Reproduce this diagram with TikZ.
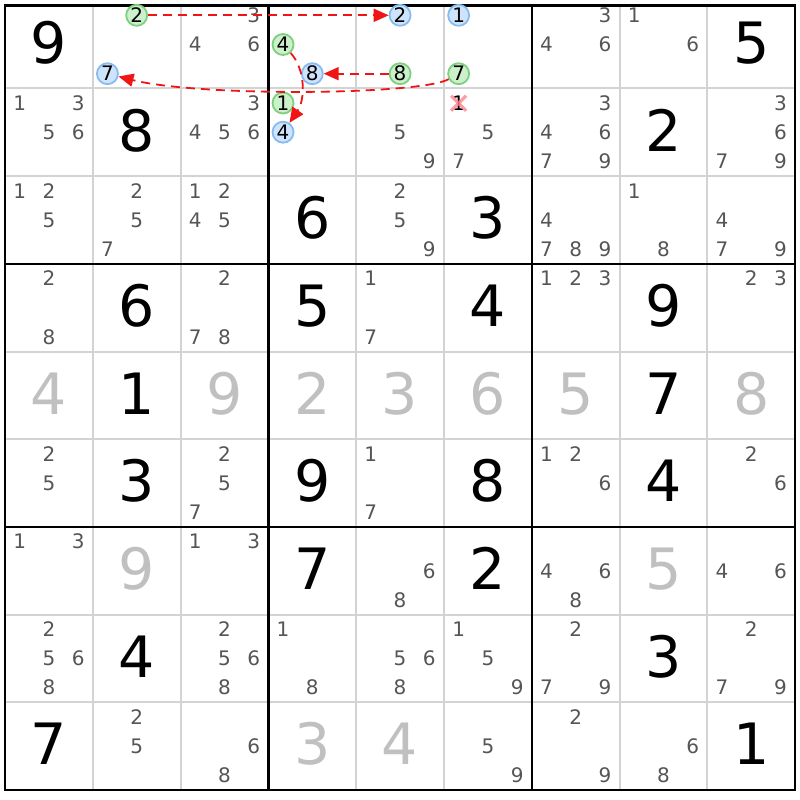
\documentclass[tikz,border=0pt]{standalone}
\usepackage{fontspec}
\setmainfont{DejaVu Sans}
\usetikzlibrary{arrows.meta}
\definecolor{candgray}{RGB}{85,85,85}
\definecolor{solvedgray}{RGB}{192,192,192}
\definecolor{gridgray}{RGB}{211,211,211}
\definecolor{ringfillg}{RGB}{204,240,204}
\definecolor{ringlineg}{RGB}{125,208,125}
\definecolor{ringfillb}{RGB}{206,228,252}
\definecolor{ringlineb}{RGB}{135,188,240}
\definecolor{linkred}{RGB}{240,20,20}
\definecolor{crosspink}{RGB}{255,130,140}

\begin{document}
\begin{tikzpicture}[x=1pt,y=-1pt,
    big/.style={inner sep=0pt,font=\fontsize{57}{57}\selectfont,text height=41.5pt,text depth=0pt},
    cand/.style={inner sep=0pt,text=candgray,font=\fontsize{20}{20}\selectfont,text height=14.6pt,text depth=0pt},
    ring/.style={cand,text=black,circle,line width=1.8pt,minimum size=21pt},
    link/.style={linkred,line width=1.8pt,dash pattern=on 9pt off 6pt,-{Triangle[length=15pt,width=13pt]}}]
  \useasboundingbox (0,0) rectangle (800,800);
  % grid
  \foreach \k in {1,2,4,5,7,8} {
    \draw[gridgray,line width=2pt] (5+87.8*\k,5.5) -- (5+87.8*\k,790);
    \draw[gridgray,line width=2pt] (5,0.7+87.7*\k) -- (795,0.7+87.7*\k);
  }
  \foreach \k in {3,6} {
    \draw[line width=2.5pt] (5+87.8*\k,5.5) -- (5+87.8*\k,790);
    \draw[line width=2.5pt] (5,0.7+87.7*\k) -- (795,0.7+87.7*\k);
  }
  \draw[line width=2.8pt] (5,5.5) rectangle (795,790);
  % givens and solved cells
  \foreach \r/\c/\d/\t in {1/1/9/black,1/9/5/black,2/2/8/black,2/8/2/black,3/4/6/black,3/6/3/black,
      4/2/6/black,4/4/5/black,4/6/4/black,4/8/9/black,5/2/1/black,5/8/7/black,
      6/2/3/black,6/4/9/black,6/6/8/black,6/8/4/black,7/4/7/black,7/6/2/black,
      8/2/4/black,8/8/3/black,9/1/7/black,9/9/1/black,
      5/1/4/solvedgray,5/3/9/solvedgray,5/4/2/solvedgray,5/5/3/solvedgray,5/6/6/solvedgray,
      5/7/5/solvedgray,5/9/8/solvedgray,7/2/9/solvedgray,7/8/5/solvedgray,9/4/3/solvedgray,9/5/4/solvedgray} {
    \node[big,text=\t] (g\r\c) at (5+87.8*\c-43.9,0.7+87.7*\r-45.85) {\d};
  }
  % pencil marks
  \foreach \r/\c/\ds in {1/3/{3,4,6},1/7/{3,4,6},1/8/{1,6},
      2/1/{1,3,5,6},2/3/{3,4,5,6},2/5/{5,9},2/6/{5,7},2/7/{3,4,6,7,9},2/9/{3,6,7,9},
      3/1/{1,2,5},3/2/{2,5,7},3/3/{1,2,4,5},3/5/{2,5,9},3/7/{4,7,8,9},3/8/{1,8},3/9/{4,7,9},
      4/1/{2,8},4/3/{2,7,8},4/5/{1,7},4/7/{1,2,3},4/9/{2,3},
      6/1/{2,5},6/3/{2,5,7},6/5/{1,7},6/7/{1,2,6},6/9/{2,6},
      7/1/{1,3},7/3/{1,3},7/5/{6,8},7/7/{4,6,8},7/9/{4,6},
      8/1/{2,5,6,8},8/3/{2,5,6,8},8/4/{1,8},8/5/{5,6,8},8/6/{1,5,9},8/7/{2,7,9},8/9/{2,7,9},
      9/2/{2,5},9/3/{6,8},9/6/{5,9},9/7/{2,9},9/8/{6,8}} {
    \foreach \d in \ds {
      \pgfmathsetmacro\px{5+87.8*(\c-1)+14.63*(2*mod(\d-1,3)+1)}
      \pgfmathsetmacro\py{0.7+87.7*(\r-1)+14.6*(2*floor((\d-1)/3)+1)}
      \node[cand] (c\r\c\d) at (\px,\py) {\d};
    }
  }
  % chain candidates
  \foreach \r/\c/\d/\k in {1/2/2/g,1/2/7/b,1/4/4/g,1/4/8/b,1/5/2/b,1/5/8/g,1/6/1/b,1/6/7/g,2/4/1/g,2/4/4/b} {
    \pgfmathsetmacro\px{5+87.8*(\c-1)+14.63*(2*mod(\d-1,3)+1)}
    \pgfmathsetmacro\py{0.7+87.7*(\r-1)+14.6*(2*floor((\d-1)/3)+1)}
    \node[ring,fill=ringfill\k,draw=ringline\k] (c\r\c\d) at (\px,\py) {\d};
  }
  \node[cand,text=black] (c261) at (458.6,103.3) {1};
  \draw[crosspink,line width=3.2pt,opacity=.8] (c261.center) ++(-7.5,-7.5) -- ++(15,15) ++(0,-15) -- ++(-15,15);
  % links
  \draw[link] (c122) -- (c152);
  \draw[link] (c158) -- (c148);
  \draw[link] (c167) .. controls (420,95) and (200,97) .. (c127);
  \draw[link] (c144) .. controls (306,70) and (305,100) .. (c244);
\end{tikzpicture}
\end{document}
